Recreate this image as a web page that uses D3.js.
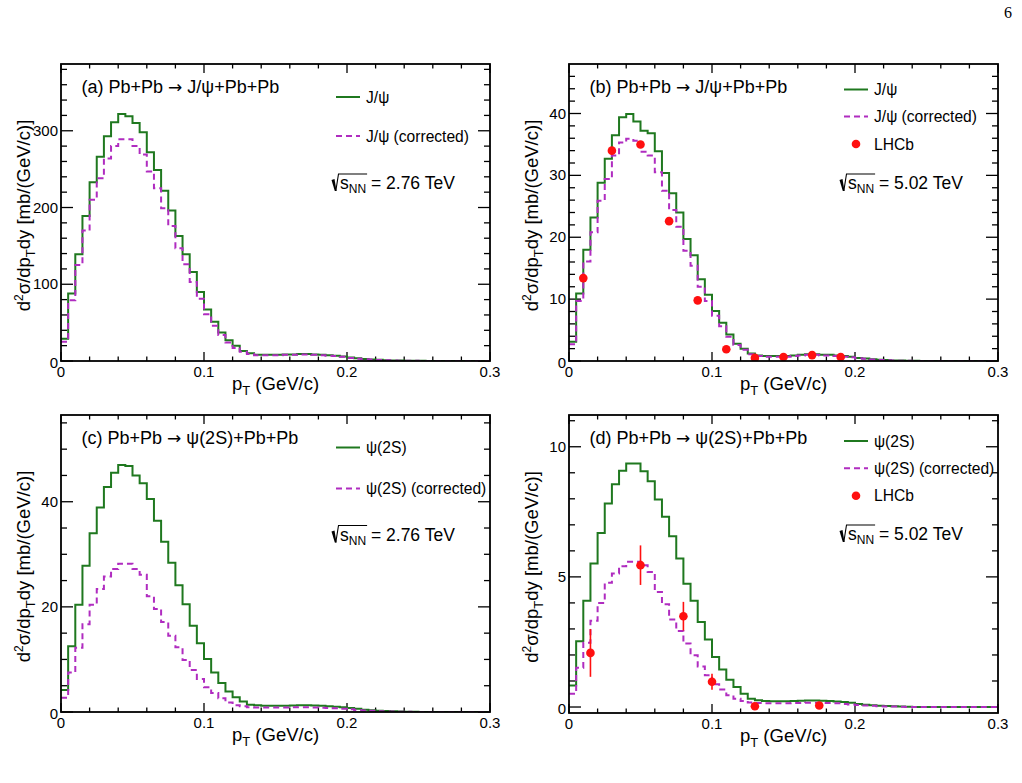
<!DOCTYPE html>
<html lang="en">
<head>
<meta charset="UTF-8">
<title>pT distributions</title>
<style>
  body { margin: 0; background: #fff; }
  svg { display: block; font-family: "Liberation Sans", Arial, sans-serif; }
</style>
</head>
<body>
<svg id="chart" width="1022" height="783"></svg>
<script src="https://d3js.org/d3.v7.min.js"></script>
<script>
// 60 bins of 0.005 GeV/c from 0 to 0.3
var binWidth = 0.005;

// (a) J/psi, 2.76 TeV
var jpsi276 = [29, 88, 139, 189, 233, 266, 293, 311, 322, 319,
  310, 298, 272, 249, 222, 196, 163, 139, 116, 90,
  67, 51, 37, 27, 20, 13, 10, 8, 8, 8,
  8, 8.5, 8.5, 9, 9, 8.5, 8, 7.5, 7, 6,
  4.5, 3.5, 2.5, 2, 1.5, 1, 0.7, 0.5, 0.3, 0.2,
  0.2, 0.1, 0.1, 0.1, 0, 0, 0, 0, 0, 0];
var jpsi276Corr = [25, 79, 125, 170, 210, 238, 264, 280, 289, 289,
  280, 269, 247, 225, 199, 176, 147, 126, 103, 81,
  61, 46, 34, 24, 17, 12, 9, 7.5, 7.5, 7.5,
  7.5, 8, 8, 8.5, 8.5, 8, 7.5, 7, 6.5, 5.5,
  4, 3, 2.2, 1.8, 1.3, 0.9, 0.6, 0.4, 0.3, 0.2,
  0.1, 0.1, 0.1, 0, 0, 0, 0, 0, 0, 0];

// (b) J/psi, 5.02 TeV
var jpsi502 = [3.1, 10.9, 18, 23.2, 28.8, 32.7, 36.5, 39.4, 39.9, 38.7,
  37.2, 36.8, 33.9, 30.4, 27.1, 24, 19.7, 17.1, 13.2, 10.7,
  8.1, 6.2, 4.3, 2.8, 2.0, 1.2, 0.9, 0.8, 0.8, 0.8,
  0.8, 0.9, 1.0, 1.1, 1.1, 1.0, 1.0, 0.9, 0.8, 0.7,
  0.5, 0.4, 0.3, 0.2, 0.15, 0.1, 0.08, 0.05, 0.03, 0.02,
  0.01, 0, 0, 0, 0, 0, 0, 0, 0, 0];
var jpsi502Corr = [2.7, 9.7, 16.1, 20.8, 25.9, 29.4, 33.2, 35.3, 35.9, 35.6,
  33.8, 33.2, 30.5, 27.5, 24.4, 21.7, 17.8, 15.4, 12.0, 9.7,
  7.3, 5.6, 3.9, 2.6, 1.8, 1.1, 0.8, 0.7, 0.7, 0.7,
  0.7, 0.8, 0.9, 1.0, 1.0, 0.9, 0.9, 0.8, 0.7, 0.6,
  0.45, 0.35, 0.25, 0.18, 0.12, 0.08, 0.06, 0.04, 0.02, 0.01,
  0, 0, 0, 0, 0, 0, 0, 0, 0, 0];
var lhcbJpsiPt = [0.01, 0.03, 0.05, 0.07, 0.09, 0.11, 0.13, 0.15, 0.17, 0.19];
var lhcbJpsi = [13.4, 34.0, 35.0, 22.6, 9.8, 1.9, 0.5, 0.65, 0.95, 0.65];
var lhcbJpsiErr = [0, 0, 0, 0, 0, 0, 0, 0, 0, 0];

// (c) psi(2S), 2.76 TeV
var psi2s276 = [4.2, 12.5, 20.4, 27.8, 34, 38.9, 42.8, 45.5, 47, 46.8,
  45, 43.5, 40.5, 36.4, 32.4, 28.4, 24.1, 20.5, 16.4, 13.1,
  10.1, 7.5, 5.5, 3.9, 2.8, 2.0, 1.4, 1.3, 1.2, 1.2,
  1.2, 1.2, 1.25, 1.3, 1.3, 1.25, 1.2, 1.1, 1.0, 0.9,
  0.75, 0.6, 0.45, 0.35, 0.25, 0.18, 0.12, 0.08, 0.05, 0.03,
  0.02, 0.01, 0, 0, 0, 0, 0, 0, 0, 0];
var psi2s276Corr = [2.7, 7.5, 12.2, 16.7, 20.4, 23.4, 25.8, 27.2, 28.2, 28.2,
  27.2, 26.1, 22, 19.6, 17.1, 14.5, 12.3, 9.9, 8, 6.3,
  4.7, 3.6, 2.6, 1.8, 1.3, 1.1, 0.9, 0.85, 0.85, 0.85,
  0.85, 0.85, 0.9, 0.9, 0.9, 0.85, 0.8, 0.75, 0.7, 0.6,
  0.5, 0.4, 0.3, 0.22, 0.16, 0.11, 0.08, 0.05, 0.03, 0.02,
  0.01, 0, 0, 0, 0, 0, 0, 0, 0, 0];

// (d) psi(2S), 5.02 TeV
var psi2s502 = [0.83, 2.53, 4.08, 5.51, 6.69, 7.82, 8.56, 9.08, 9.36, 9.36,
  9.06, 8.67, 7.97, 7.31, 6.56, 5.71, 4.74, 4.08, 3.27, 2.59,
  1.92, 1.44, 1.05, 0.77, 0.51, 0.32, 0.26, 0.23, 0.22, 0.22,
  0.22, 0.23, 0.24, 0.25, 0.25, 0.24, 0.23, 0.21, 0.19, 0.16,
  0.12, 0.09, 0.07, 0.05, 0.035, 0.025, 0.015, 0.01, 0.005, 0,
  0, 0, 0, 0, 0, 0, 0, 0, 0, 0];
var psi2s502Corr = [0.51, 1.51, 2.47, 3.31, 4.0, 4.77, 5.13, 5.41, 5.58, 5.58,
  5.45, 5.19, 4.42, 3.95, 3.36, 2.92, 2.44, 1.99, 1.56, 1.22,
  0.87, 0.67, 0.45, 0.32, 0.23, 0.17, 0.15, 0.14, 0.14, 0.14,
  0.14, 0.15, 0.15, 0.16, 0.16, 0.15, 0.15, 0.14, 0.12, 0.1,
  0.08, 0.06, 0.045, 0.03, 0.02, 0.015, 0.01, 0.005, 0, 0,
  0, 0, 0, 0, 0, 0, 0, 0, 0, 0];
var lhcbPsi2sPt = [0.015, 0.05, 0.08, 0.1, 0.13, 0.175];
var lhcbPsi2s = [2.08, 5.45, 3.49, 0.97, 0.03, 0.06];
var lhcbPsi2sErr = [0.92, 0.76, 0.55, 0.31, 0.02, 0.02];

var xTicksMajor = [0, 0.1, 0.2, 0.3];
var xTickLabels = ['0', '0.1', '0.2', '0.3'];

var green = '#1f781f';
var magenta = '#b02cc0';
var red = '#ff1010';

var panels = [
    {tag: '(a)', state: 'J/\u03c8', energy: '2.76', left: 61, top: 64, right: 490, bottom: 361,
     yDomain: [0, 387], yMajor: [0, 100, 200, 300], yMinorStep: 20,
     hist: jpsi276, corr: jpsi276Corr, name: 'J/\u03c8', rows: [33, 72], energyY: 125},
    {tag: '(b)', state: 'J/\u03c8', energy: '5.02', left: 569, top: 64, right: 998, bottom: 361,
     yDomain: [0, 48], yMajor: [0, 10, 20, 30, 40], yMinorStep: 2,
     hist: jpsi502, corr: jpsi502Corr, name: 'J/\u03c8', rows: [25.5, 52.5, 80], energyY: 125,
     pts: lhcbJpsiPt, ptsY: lhcbJpsi, ptsErr: lhcbJpsiErr},
    {tag: '(c)', state: '\u03c8(2S)', energy: '2.76', left: 61, top: 415, right: 490, bottom: 712,
     yDomain: [0, 56.5], yMajor: [0, 20, 40], yMinorStep: 5,
     hist: psi2s276, corr: psi2s276Corr, name: '\u03c8(2S)', rows: [32.5, 73.5], energyY: 125.5},
    {tag: '(d)', state: '\u03c8(2S)', energy: '5.02', left: 569, top: 415, right: 998, bottom: 713,
     yDomain: [-0.23, 11.22], yMajor: [0, 5, 10], yMinorStep: 1,
     hist: psi2s502, corr: psi2s502Corr, name: '\u03c8(2S)', rows: [26, 53.3, 80.7], energyY: 125,
     pts: lhcbPsi2sPt, ptsY: lhcbPsi2s, ptsErr: lhcbPsi2sErr}
];

var svg = d3.select('#chart');

// page number
svg.append('text')
    .attr('x', 1008).attr('y', 18)
    .attr('text-anchor', 'middle')
    .style('font-family', '"Liberation Serif", "Times New Roman", serif')
    .style('font-size', '16px')
    .text('6');

panels.forEach(function(p, k) {
    var x = d3.scaleLinear().domain([0, 0.3]).range([p.left, p.right]);
    var y = d3.scaleLinear().domain(p.yDomain).range([p.bottom, p.top]);
    var g = svg.append('g');

    var clipId = 'clip' + k;
    svg.append('clipPath').attr('id', clipId)
        .append('rect')
        .attr('x', p.left).attr('y', p.top)
        .attr('width', p.right - p.left).attr('height', p.bottom - p.top);

    // ticks on all four sides, pointing inward
    var xMinor = d3.range(0, 0.3001, 0.02);
    var yMinor = d3.range(Math.ceil(p.yDomain[0] / p.yMinorStep) * p.yMinorStep, p.yDomain[1], p.yMinorStep);
    var ticks = g.append('g').attr('stroke', '#000').attr('stroke-width', 1.3);
    xMinor.forEach(function(v) {
        var major = xTicksMajor.some(function(m) { return Math.abs(m - v) < 1e-6; });
        var len = major ? 9 : 4.5;
        ticks.append('line').attr('x1', x(v)).attr('x2', x(v)).attr('y1', p.bottom).attr('y2', p.bottom - len);
        ticks.append('line').attr('x1', x(v)).attr('x2', x(v)).attr('y1', p.top).attr('y2', p.top + len);
    });
    yMinor.forEach(function(v) {
        var major = p.yMajor.some(function(m) { return Math.abs(m - v) < 1e-6; });
        var len = major ? 12 : 6;
        ticks.append('line').attr('x1', p.left).attr('x2', p.left + len).attr('y1', y(v)).attr('y2', y(v));
        ticks.append('line').attr('x1', p.right).attr('x2', p.right - len).attr('y1', y(v)).attr('y2', y(v));
    });

    // tick labels
    xTicksMajor.forEach(function(v, i) {
        g.append('text')
            .attr('x', x(v)).attr('y', p.bottom + 16)
            .attr('text-anchor', 'middle')
            .style('font-size', '15px')
            .text(xTickLabels[i]);
    });
    p.yMajor.forEach(function(v) {
        g.append('text')
            .attr('x', p.left - 3).attr('y', y(v) + (v === 0 ? 7 : 5))
            .attr('text-anchor', 'end')
            .style('font-size', '15px')
            .text(v);
    });

    // histograms
    var edges = p.hist.map(function(d, i) { return i * binWidth; });
    var stepLine = d3.line()
        .x(function(d) { return x(d[0]); })
        .y(function(d) { return y(d[1]); })
        .curve(d3.curveStepAfter);
    function histPoints(vals) {
        var pts = vals.map(function(v, i) { return [edges[i], v]; });
        pts.push([0.3, vals[vals.length - 1]]);
        return pts;
    }
    var plot = g.append('g').attr('clip-path', 'url(#' + clipId + ')');
    plot.append('path')
        .attr('d', stepLine(histPoints(p.hist)))
        .attr('fill', 'none')
        .attr('stroke', green)
        .attr('stroke-width', 2);
    plot.append('path')
        .attr('d', stepLine(histPoints(p.corr)))
        .attr('fill', 'none')
        .attr('stroke', magenta)
        .attr('stroke-width', 2)
        .attr('stroke-dasharray', '6,4');

    // LHCb data
    if (p.pts) {
        p.pts.forEach(function(v, i) {
            if (p.ptsErr[i] > 0) {
                plot.append('line')
                    .attr('x1', x(v)).attr('x2', x(v))
                    .attr('y1', y(p.ptsY[i] - p.ptsErr[i]))
                    .attr('y2', y(p.ptsY[i] + p.ptsErr[i]))
                    .attr('stroke', red).attr('stroke-width', 1.6);
            }
            plot.append('circle')
                .attr('cx', x(v)).attr('cy', y(p.ptsY[i]))
                .attr('r', 4.3)
                .attr('fill', red);
        });
    }

    // frame
    g.append('rect')
        .attr('x', p.left).attr('y', p.top)
        .attr('width', p.right - p.left).attr('height', p.bottom - p.top)
        .attr('fill', 'none').attr('stroke', '#000').attr('stroke-width', 1.8);

    // axis titles
    var xt = g.append('text')
        .attr('x', (p.left + p.right) / 2).attr('y', p.bottom + 29)
        .attr('text-anchor', 'middle')
        .style('font-size', '18.5px');
    xt.append('tspan').text('p');
    xt.append('tspan').attr('dy', 5).style('font-size', '13px').text('T');
    xt.append('tspan').attr('dy', -5).text(' (GeV/c)');

    var cx = p.left - 31, cy = (p.top + p.bottom) / 2 + 3;
    var yt = g.append('text')
        .attr('transform', 'translate(' + cx + ',' + cy + ') rotate(-90)')
        .attr('text-anchor', 'middle')
        .style('font-size', '18.5px');
    yt.append('tspan').text('d');
    yt.append('tspan').attr('dy', -7).style('font-size', '12px').text('2');
    yt.append('tspan').attr('dy', 7).text('\u03c3/dp');
    yt.append('tspan').attr('dy', 5).style('font-size', '13px').text('T');
    yt.append('tspan').attr('dy', -5).text('dy [mb/(GeV/c)]');

    // panel title
    var tt = g.append('text')
        .attr('x', p.left + 20.5).attr('y', p.top + 29.3)
        .style('font-size', '18px');
    tt.append('tspan').text(p.tag + ' Pb+Pb ');
    tt.append('tspan').style('font-family', '"DejaVu Sans", sans-serif').style('font-size', '17px').text('\u2192');
    tt.append('tspan').text(' ' + p.state + '+Pb+Pb');

    // legend
    var lx0 = p.left + 275, lx1 = p.left + 299, tx = p.left + 305;
    var entries = [
        {label: p.name, kind: 'solid'},
        {label: p.name + ' (corrected)', kind: 'dash'}
    ];
    if (p.pts) entries.push({label: 'LHCb', kind: 'dot'});
    entries.forEach(function(e, i) {
        var ly = p.top + p.rows[i];
        if (e.kind === 'dot') {
            g.append('circle').attr('cx', (lx0 + lx1) / 2).attr('cy', ly).attr('r', 4.3).attr('fill', red);
        } else {
            g.append('line')
                .attr('x1', lx0).attr('x2', lx1).attr('y1', ly).attr('y2', ly)
                .attr('stroke', e.kind === 'solid' ? green : magenta)
                .attr('stroke-width', 2)
                .attr('stroke-dasharray', e.kind === 'dash' ? '6,4' : null);
        }
        g.append('text')
            .attr('x', tx).attr('y', ly + 5.5)
            .style('font-size', '15.6px')
            .text(e.label);
    });

    // sqrt(s_NN) label
    var sx = p.left + 270, sy = p.top + p.energyY;
    var rt = g.append('text')
        .attr('x', sx + 9).attr('y', sy)
        .style('font-size', '17.5px');
    rt.append('tspan').text('s');
    rt.append('tspan').attr('dy', 4).style('font-size', '12px').text('NN');
    rt.append('tspan').attr('dy', -4).text(' = ' + p.energy + ' TeV');
    var overEnd = sx + 9 + rt.node().getSubStringLength(0, 3) + 1;
    g.append('path')
        .attr('d', 'M' + (sx + 0.5) + ',' + (sy - 9) + ' L' + (sx + 3.5) + ',' + (sy - 10) +
            ' L' + (sx + 5.5) + ',' + (sy + 2) + ' L' + (sx + 3.8) + ',' + (sy + 2) + ' Z')
        .attr('fill', '#000');
    g.append('path')
        .attr('d', 'M' + (sx + 4.8) + ',' + (sy + 2) + ' L' + (sx + 7.5) + ',' + (sy - 15) + ' H' + overEnd)
        .attr('fill', 'none').attr('stroke', '#000').attr('stroke-width', 1.1);
});
</script>
</body>
</html>
